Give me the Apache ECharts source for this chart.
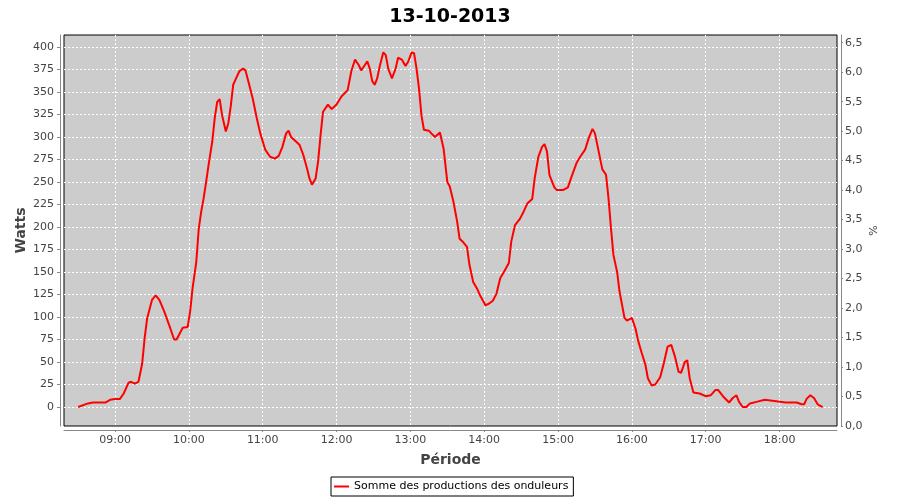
<!DOCTYPE html>
<html>
<head>
<meta charset="utf-8">
<script src="https://cdn.jsdelivr.net/npm/echarts@6/dist/echarts.min.js"></script>
<style>
html,body{margin:0;padding:0;background:#fff;}
#chart{width:900px;height:500px;}
</style>
</head>
<body>
<div id="chart"></div>
<script>
const chartTitle = "13-10-2013";
const seriesName = "Somme des productions des onduleurs";
const times = ["08:30","08:38","08:42","08:52","08:56","09:00","09:04","09:07","09:11","09:13","09:16","09:19","09:22","09:24","09:26","09:30","09:33","09:36","09:40","09:45","09:48","09:50","09:55","09:59","10:01","10:03","10:06","10:08","10:10","10:12","10:14","10:16","10:19","10:21","10:23","10:25","10:27","10:30","10:32","10:34","10:36","10:39","10:41","10:44","10:46","10:49","10:52","10:55","10:58","11:02","11:06","11:10","11:13","11:16","11:19","11:21","11:23","11:27","11:30","11:33","11:36","11:38","11:40","11:43","11:45","11:47","11:49","11:53","11:56","12:00","12:04","12:09","12:12","12:15","12:18","12:20","12:23","12:25","12:27","12:29","12:31","12:33","12:35","12:38","12:40","12:42","12:45","12:48","12:50","12:53","12:56","12:58","13:01","13:03","13:05","13:07","13:09","13:11","13:15","13:17","13:20","13:24","13:27","13:30","13:32","13:35","13:38","13:40","13:43","13:46","13:48","13:51","13:54","13:57","14:01","14:04","14:07","14:10","14:13","14:16","14:20","14:22","14:25","14:29","14:32","14:35","14:39","14:41","14:44","14:47","14:49","14:51","14:53","14:57","14:59","15:04","15:08","15:11","15:15","15:18","15:22","15:25","15:28","15:30","15:33","15:36","15:39","15:41","15:43","15:45","15:48","15:50","15:54","15:56","16:00","16:03","16:05","16:08","16:11","16:13","16:16","16:19","16:23","16:26","16:29","16:32","16:35","16:38","16:40","16:43","16:45","16:47","16:50","16:55","17:00","17:04","17:08","17:10","17:14","17:19","17:22","17:25","17:27","17:30","17:33","17:36","17:42","17:48","17:54","17:59","18:05","18:14","18:18","18:20","18:22","18:25","18:28","18:31","18:35"];
const watts = [0,4,5,5,8,9,9,15,27,28,26,28,48,76,98,119,124,119,106,87,75,75,88,89,106,132,161,198,217,232,250,269,295,321,339,342,324,306,315,334,358,367,373,376,374,358,342,322,304,286,278,276,279,289,304,307,300,295,291,280,265,254,247,254,273,302,328,336,331,336,345,352,373,386,380,374,380,384,376,362,358,365,378,394,391,376,365,376,388,386,379,383,394,393,376,354,324,308,307,304,300,305,287,250,245,228,206,187,183,178,158,139,132,123,113,115,118,126,143,150,160,184,202,209,217,226,231,254,278,289,292,284,258,244,241,241,244,256,271,278,286,299,309,304,284,264,258,232,199,169,150,128,99,96,99,87,74,60,47,32,24,25,33,49,67,69,56,39,38,50,52,32,16,15,12,13,19,19,12,5,10,13,6,0,0,4,6,8,7,6,5,5,3,3,9,13,10,3,0];
const xTickLabels = ["09:00","10:00","11:00","12:00","13:00","14:00","15:00","16:00","17:00","18:00"];
const wattTicks = [0,25,50,75,100,125,150,175,200,225,250,275,300,325,350,375,400];
const pctTicks = [0,0.5,1,1.5,2,2.5,3,3.5,4,4.5,5,5.5,6,6.5];

const toMin = s => { const p = s.split(':'); return (+p[0]) * 60 + (+p[1]); };
const fmtTime = v => { const h = Math.floor(v / 60), m = Math.round(v - h * 60); return (h < 10 ? '0' : '') + h + ':' + (m < 10 ? '0' : '') + m; };
const xTickValues = xTickLabels.map(toMin);
const data = times.map((t, i) => [toMin(t), watts[i]]);

const FONT = 'DejaVu Sans';
const labelStyle = { color: '#444', fontSize: 11, fontFamily: FONT };
const nameStyle = { color: '#444', fontSize: 14, fontWeight: 'bold', fontFamily: FONT };
const gridLine = { show: true, lineStyle: { color: '#ffffff', width: 1, type: [2, 2] } };
const axisLineStyle = { show: true, onZero: false, lineStyle: { color: '#888', width: 1 } };

const chart = echarts.init(document.getElementById('chart'), null, { renderer: 'canvas' });
chart.setOption({
  animation: false,
  backgroundColor: '#ffffff',
  title: {
    text: chartTitle, left: 'center', top: 3,
    textStyle: { fontSize: 19, fontWeight: 'bold', color: '#000', fontFamily: FONT }
  },
  legend: {
    data: [seriesName],
    left: 331, top: 477,
    padding: [4, 5, 4, 3],
    borderColor: '#000', borderWidth: 1,
    icon: 'rect', itemWidth: 15, itemHeight: 2,
    textStyle: { color: '#000', fontSize: 11, fontFamily: FONT },
    itemStyle: { color: '#ff0000' }
  },
  grid: {
    left: 64, right: 63, top: 35, bottom: 74,
    show: true, backgroundColor: '#cccccc', borderColor: '#000', borderWidth: 1,
    containLabel: false
  },
  xAxis: {
    type: 'value', min: 498.5, max: 1126.7, position: 'bottom', offset: 4,
    name: 'Période', nameLocation: 'middle', nameGap: 23, nameMoveOverlap: false, nameTextStyle: nameStyle,
    axisLine: axisLineStyle,
    axisTick: { show: true, length: 2, customValues: xTickValues, lineStyle: { color: '#888' } },
    axisLabel: Object.assign({ customValues: xTickValues, formatter: fmtTime, margin: 5 }, labelStyle),
    splitLine: gridLine
  },
  yAxis: [
    {
      type: 'value', min: -21.1, max: 413.3, position: 'left', offset: 4,
      name: 'Watts', nameLocation: 'middle', nameGap: 32, nameMoveOverlap: false, nameTextStyle: nameStyle,
      axisLine: axisLineStyle,
      axisTick: { show: true, length: 3, customValues: wattTicks, lineStyle: { color: '#888' } },
      axisLabel: Object.assign({ customValues: wattTicks, margin: 6 }, labelStyle),
      splitLine: gridLine
    },
    {
      type: 'value', min: 0, max: 6.63, position: 'right', offset: 4,
      name: '%', nameLocation: 'middle', nameGap: 28, nameMoveOverlap: false,
      nameTextStyle: { color: '#444', fontSize: 11, fontFamily: FONT },
      axisLine: axisLineStyle,
      axisTick: { show: true, length: 2, customValues: pctTicks, lineStyle: { color: '#888' } },
      axisLabel: Object.assign({ customValues: pctTicks, margin: 4, formatter: v => v.toFixed(1).replace('.', ',') }, labelStyle),
      splitLine: { show: false }
    }
  ],
  series: [{
    name: seriesName, type: 'line', yAxisIndex: 0, xAxisIndex: 0,
    data: data, symbol: 'none', smooth: false, clip: true,
    lineStyle: { color: '#ff0000', width: 2 },
    itemStyle: { color: '#ff0000' }
  }]
});
</script>
</body>
</html>
